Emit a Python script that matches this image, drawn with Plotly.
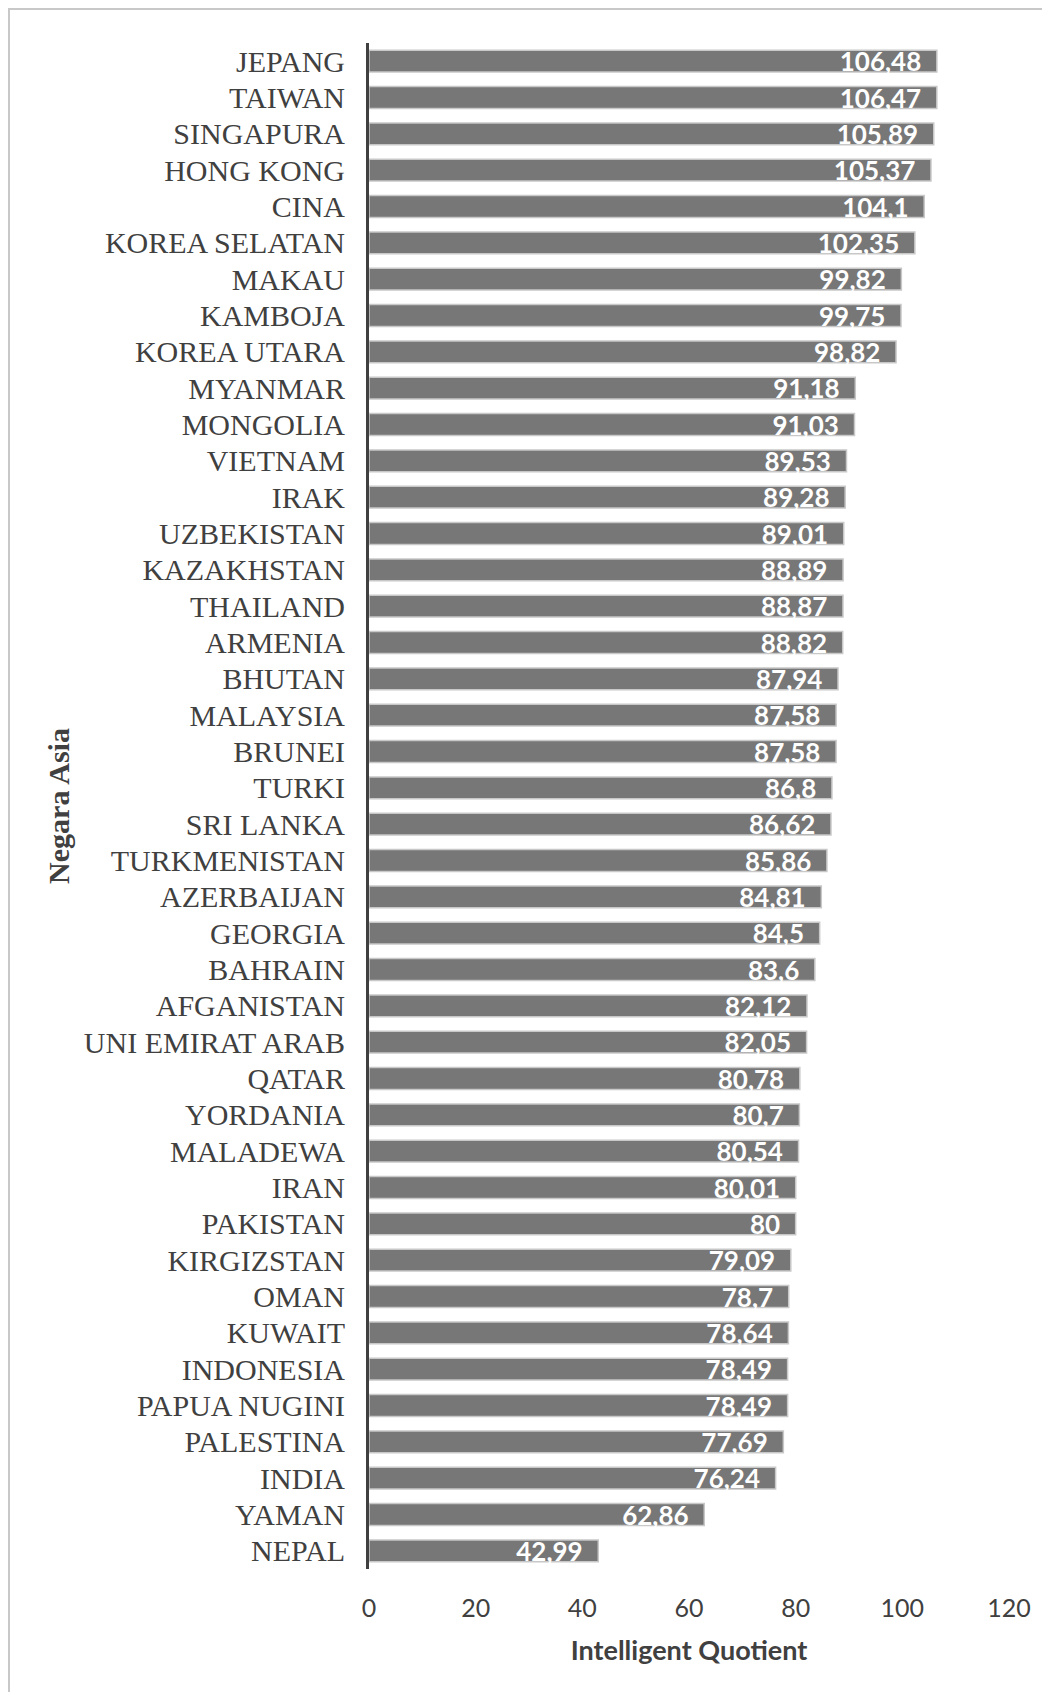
import plotly.graph_objects as go

countries = ["JEPANG", "TAIWAN", "SINGAPURA", "HONG KONG", "CINA", "KOREA SELATAN", "MAKAU",
             "KAMBOJA", "KOREA UTARA", "MYANMAR", "MONGOLIA", "VIETNAM", "IRAK", "UZBEKISTAN",
             "KAZAKHSTAN", "THAILAND", "ARMENIA", "BHUTAN", "MALAYSIA", "BRUNEI", "TURKI",
             "SRI LANKA", "TURKMENISTAN", "AZERBAIJAN", "GEORGIA", "BAHRAIN", "AFGANISTAN",
             "UNI EMIRAT ARAB", "QATAR", "YORDANIA", "MALADEWA", "IRAN", "PAKISTAN",
             "KIRGIZSTAN", "OMAN", "KUWAIT", "INDONESIA", "PAPUA NUGINI", "PALESTINA",
             "INDIA", "YAMAN", "NEPAL"]
iq = [106.48, 106.47, 105.89, 105.37, 104.1, 102.35, 99.82, 99.75, 98.82, 91.18, 91.03,
      89.53, 89.28, 89.01, 88.89, 88.87, 88.82, 87.94, 87.58, 87.58, 86.8, 86.62, 85.86,
      84.81, 84.5, 83.6, 82.12, 82.05, 80.78, 80.7, 80.54, 80.01, 80, 79.09, 78.7, 78.64,
      78.49, 78.49, 77.69, 76.24, 62.86, 42.99]
x_ticks = [0, 20, 40, 60, 80, 100, 120]

labels = [(("%g" % v).replace(".", ",")) + "\u00a0\u00a0" for v in iq]

fig = go.Figure(go.Bar(
    x=iq, y=countries, orientation="h",
    marker=dict(color="#777777", line=dict(color="#c8c8c8", width=1.5)),
    text=labels, textposition="inside", insidetextanchor="end",
    constraintext="none",
    textfont=dict(family="Lato", size=26, color="white", weight="bold"),
    cliponaxis=False,
))

fig.update_layout(
    width=1042, height=1684,
    margin=dict(l=361, r=41, t=35, b=123),
    paper_bgcolor="white", plot_bgcolor="white",
    bargap=0.4, showlegend=False,
    xaxis=dict(range=[0, 120], tickvals=x_ticks, showgrid=False, zeroline=False,
               showline=False, ticks="", ticklabelstandoff=22,
               tickfont=dict(family="Lato", size=25, color="#404040"),
               title=dict(text="Intelligent Quotient", standoff=20,
                          font=dict(family="Lato", size=27, color="#404040", weight="bold"))),
    yaxis=dict(autorange="reversed", showgrid=False, zeroline=False,
               showline=True, linecolor="#404040", linewidth=3, ticks="",
               ticklabelstandoff=15,
               tickfont=dict(family="Liberation Serif", size=30, color="#404040"),
               title=dict(text="Negara Asia", standoff=6,
                          font=dict(family="Liberation Serif", size=30, color="#404040",
                                    weight="bold"))),
    shapes=[dict(type="rect", xref="paper", yref="paper",
                 x0=-0.5625, x1=1.09, y0=-0.09, y1=1.0223,
                 line=dict(color="#c8c8c8", width=2), fillcolor="rgba(0,0,0,0)")],
)

fig.write_html("out.html")
